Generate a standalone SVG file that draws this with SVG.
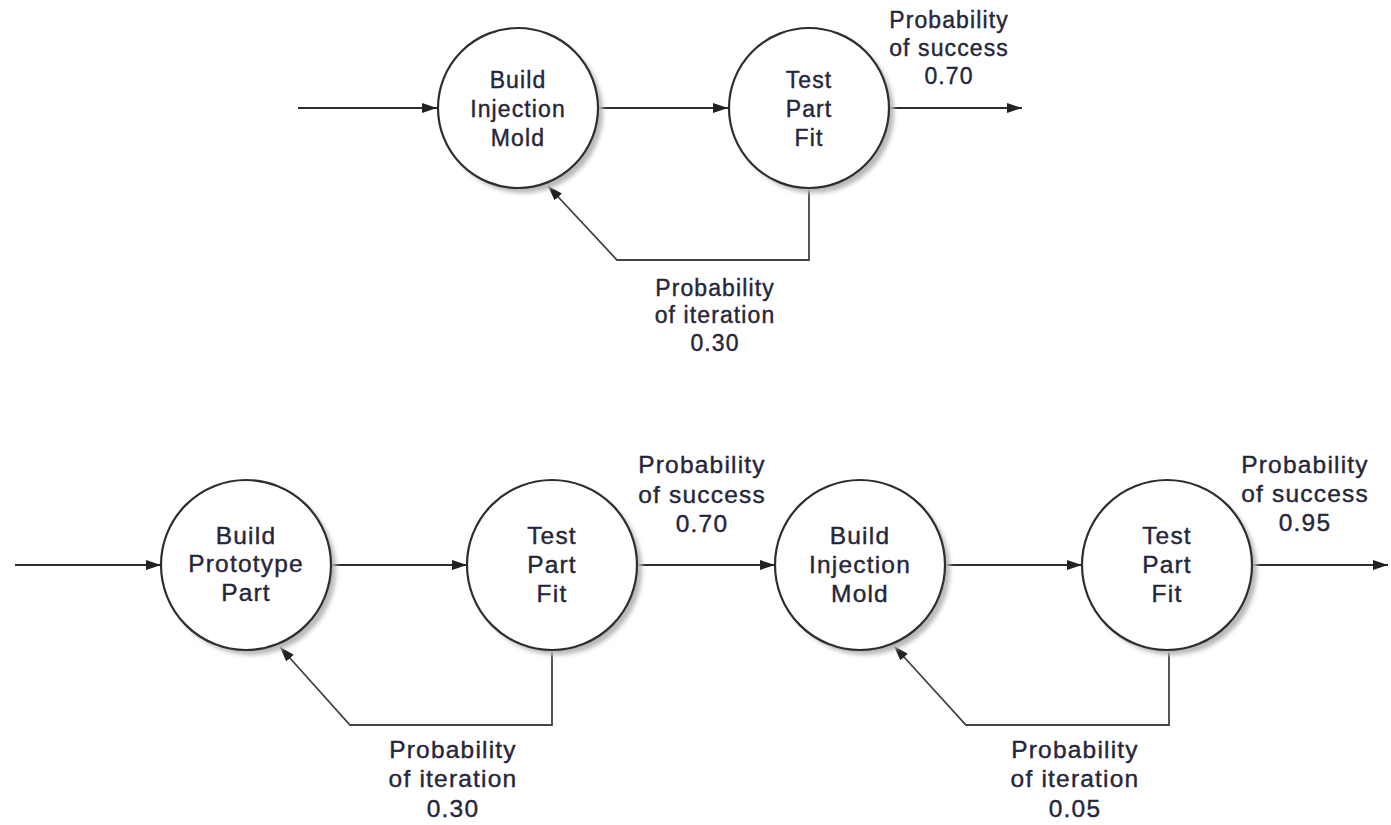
<svg xmlns="http://www.w3.org/2000/svg" width="1391" height="825" viewBox="0 0 1391 825">
  <style>
    .node { fill: #ffffff; stroke: #2e2e2e; stroke-width: 2.2; }
    .shadow { fill: #b9b9b9; filter: url(#soft); }
    .edge { fill: none; stroke: #2e2e2e; stroke-width: 2; marker-end: url(#arrow); }
    .loop { fill: none; stroke: #444444; stroke-width: 1.8; marker-end: url(#arrow); }
    text { font-family: "Liberation Sans", Arial, sans-serif; fill: #26263a; stroke: #26263a; stroke-width: 0.4; text-anchor: middle; }
    .s { font-size: 23px; letter-spacing: 1.1px; }
    .l { font-size: 24.5px; letter-spacing: 1.2px; }
  </style>
  <defs>
    <filter id="soft" x="-20%" y="-20%" width="140%" height="140%">
      <feGaussianBlur stdDeviation="2.2"/>
    </filter>
    <marker id="arrow" markerUnits="userSpaceOnUse" markerWidth="16" markerHeight="12" refX="15" refY="5" orient="auto">
      <path d="M0,0 L15,5 L0,10 Z" fill="#222222"/>
    </marker>
  </defs>

  <rect width="1391" height="825" fill="#ffffff"/>

  <!-- connectors -->
  <g id="connectors">
    <!-- upper loop -->
    <line class="edge" x1="298" y1="108" x2="437" y2="108"/>
    <line class="edge" x1="598" y1="108" x2="728" y2="108"/>
    <line class="edge" x1="890" y1="108" x2="1022" y2="108"/>
    <polyline class="loop" points="809,189 809,260 617,260 548,186"/>

    <!-- lower chain -->
    <line class="edge" x1="15" y1="565" x2="161" y2="565"/>
    <line class="edge" x1="331" y1="565" x2="467" y2="565"/>
    <line class="edge" x1="637" y1="565" x2="775" y2="565"/>
    <line class="edge" x1="945" y1="565" x2="1082" y2="565"/>
    <line class="edge" x1="1252" y1="565" x2="1388" y2="565"/>
    <polyline class="loop" points="552,650 552,725 350,725 280,647"/>
    <polyline class="loop" points="1169,650 1169,725 966,725 894,646"/>
  </g>

  <!-- upper loop nodes -->
  <g id="mold-top">
    <circle class="shadow" cx="523" cy="113" r="80"/>
    <circle class="node" cx="518" cy="108" r="80"/>
    <text class="s" x="518" y="88">Build</text>
    <text class="s" x="518" y="117">Injection</text>
    <text class="s" x="518" y="146">Mold</text>
  </g>
  <g id="fit-top">
    <circle class="shadow" cx="814" cy="113" r="80"/>
    <circle class="node" cx="809" cy="108" r="80"/>
    <text class="s" x="809" y="88">Test</text>
    <text class="s" x="809" y="117">Part</text>
    <text class="s" x="809" y="146">Fit</text>
  </g>

  <!-- lower chain nodes -->
  <g id="proto">
    <circle class="shadow" cx="251" cy="570" r="85"/>
    <circle class="node" cx="246" cy="565" r="85"/>
    <text class="l" x="246" y="544">Build</text>
    <text class="l" x="246" y="572">Prototype</text>
    <text class="l" x="246" y="601">Part</text>
  </g>
  <g id="fit-proto">
    <circle class="shadow" cx="557" cy="570" r="85"/>
    <circle class="node" cx="552" cy="565" r="85"/>
    <text class="l" x="552" y="544">Test</text>
    <text class="l" x="552" y="573">Part</text>
    <text class="l" x="552" y="602">Fit</text>
  </g>
  <g id="mold">
    <circle class="shadow" cx="865" cy="570" r="85"/>
    <circle class="node" cx="860" cy="565" r="85"/>
    <text class="l" x="860" y="544">Build</text>
    <text class="l" x="860" y="573">Injection</text>
    <text class="l" x="860" y="602">Mold</text>
  </g>
  <g id="fit-mold">
    <circle class="shadow" cx="1172" cy="570" r="85"/>
    <circle class="node" cx="1167" cy="565" r="85"/>
    <text class="l" x="1167" y="544">Test</text>
    <text class="l" x="1167" y="573">Part</text>
    <text class="l" x="1167" y="602">Fit</text>
  </g>

  <!-- probability labels -->
  <g id="labels">
    <text class="s" x="949" y="28">Probability</text>
    <text class="s" x="949" y="56">of success</text>
    <text class="s" x="949" y="84">0.70</text>

    <text class="s" x="715" y="296">Probability</text>
    <text class="s" x="715" y="323">of iteration</text>
    <text class="s" x="715" y="351">0.30</text>

    <text class="l" x="702" y="473">Probability</text>
    <text class="l" x="702" y="503">of success</text>
    <text class="l" x="702" y="532">0.70</text>

    <text class="l" x="1305" y="473">Probability</text>
    <text class="l" x="1305" y="502">of success</text>
    <text class="l" x="1305" y="531">0.95</text>

    <text class="l" x="453" y="758">Probability</text>
    <text class="l" x="453" y="787">of iteration</text>
    <text class="l" x="453" y="817">0.30</text>

    <text class="l" x="1075" y="758">Probability</text>
    <text class="l" x="1075" y="787">of iteration</text>
    <text class="l" x="1075" y="817">0.05</text>
  </g>
</svg>
